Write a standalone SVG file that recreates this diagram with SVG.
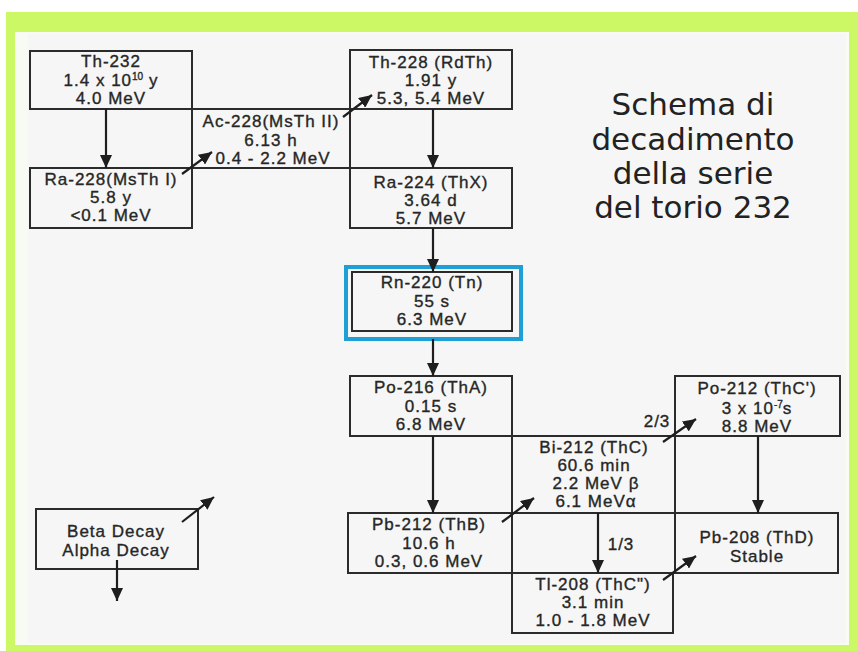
<svg xmlns="http://www.w3.org/2000/svg" width="858" height="651" viewBox="0 0 858 651">
<style>
.box{fill:none;stroke:#2b2b2b;stroke-width:2}
.t{font-family:"Liberation Sans",Arial,sans-serif;font-size:17px;letter-spacing:1px;fill:#262626;stroke:#262626;stroke-width:0.35;text-anchor:middle}
.sup{font-size:10px;letter-spacing:0}
.c{stroke:#1e1e1e;stroke-width:2.2;fill:none;marker-end:url(#ah)}
.title{font-family:"DejaVu Sans",Verdana,sans-serif;font-size:31px;fill:#222;text-anchor:middle}
</style>
<defs>
<marker id="ah" markerUnits="userSpaceOnUse" markerWidth="14" markerHeight="12" refX="13" refY="6" orient="auto">
<path d="M0,0 L13,6 L0,12 z" fill="#1e1e1e"/>
</marker>
</defs>
<rect x="0" y="0" width="858" height="651" fill="#ffffff"/>
<rect x="6" y="12" width="852" height="639" fill="#ccf866"/>
<rect x="15" y="32" width="834" height="613" fill="#f8faf4"/>
<rect x="28" y="34" width="818" height="609" fill="#f5f6f5"/>

<g id="title">
<text class="title" x="693" y="115">Schema di</text>
<text class="title" x="693" y="150">decadimento</text>
<text class="title" x="693" y="184">della serie</text>
<text class="title" x="693" y="218">del torio 232</text>
</g>

<g id="th232">
<rect class="box" x="30" y="51" width="162" height="58"/>
<text class="t" x="111" y="67">Th-232</text>
<text class="t" x="111" y="86">1.4 x 10<tspan class="sup" dy="-6">10</tspan><tspan dy="6"> y</tspan></text>
<text class="t" x="111" y="104">4.0 MeV</text>
</g>
<g id="ac228">
<rect class="box" x="192" y="109" width="158" height="59"/>
<text class="t" x="271" y="127">Ac-228(MsTh II)</text>
<text class="t" x="271" y="146">6.13 h</text>
<text class="t" x="273" y="164">0.4 - 2.2 MeV</text>
</g>
<g id="ra228">
<rect class="box" x="30" y="168" width="162" height="60"/>
<text class="t" x="111" y="185">Ra-228(MsTh I)</text>
<text class="t" x="111" y="203">5.8 y</text>
<text class="t" x="111" y="221">&lt;0.1 MeV</text>
</g>
<g id="th228">
<rect class="box" x="350" y="50" width="162" height="59"/>
<text class="t" x="431" y="68">Th-228 (RdTh)</text>
<text class="t" x="431" y="86">1.91 y</text>
<text class="t" x="431" y="104">5.3, 5.4 MeV</text>
</g>
<g id="ra224">
<rect class="box" x="350" y="168" width="162" height="60"/>
<text class="t" x="431" y="188">Ra-224 (ThX)</text>
<text class="t" x="431" y="206">3.64 d</text>
<text class="t" x="431" y="224">5.7 MeV</text>
</g>
<g id="rn220">
<rect x="346" y="267" width="175" height="72" fill="none" stroke="#1ea0d6" stroke-width="4"/>
<rect class="box" x="352" y="272" width="160" height="59"/>
<text class="t" x="432" y="288">Rn-220 (Tn)</text>
<text class="t" x="432" y="307">55 s</text>
<text class="t" x="432" y="325">6.3 MeV</text>
</g>
<g id="po216">
<rect class="box" x="350" y="376" width="162" height="60"/>
<text class="t" x="431" y="393">Po-216 (ThA)</text>
<text class="t" x="431" y="412">0.15 s</text>
<text class="t" x="431" y="430">6.8 MeV</text>
</g>
<g id="po212">
<rect class="box" x="675" y="376" width="165" height="60"/>
<text class="t" x="757" y="394">Po-212 (ThC')</text>
<text class="t" x="757" y="414">3 x 10<tspan class="sup" dy="-6">-7</tspan><tspan dy="6">s</tspan></text>
<text class="t" x="757" y="432">8.8 MeV</text>
</g>
<g id="bi212">
<rect class="box" x="512" y="436" width="163" height="77"/>
<text class="t" x="594" y="453">Bi-212 (ThC)</text>
<text class="t" x="594" y="471">60.6 min</text>
<text class="t" x="596" y="489">2.2 MeV β</text>
<text class="t" x="596" y="507">6.1 MeVα</text>
</g>
<g id="pb212">
<rect class="box" x="348" y="513" width="164" height="60"/>
<text class="t" x="429" y="530">Pb-212 (ThB)</text>
<text class="t" x="429" y="549">10.6 h</text>
<text class="t" x="429" y="567">0.3, 0.6 MeV</text>
</g>
<g id="pb208">
<rect class="box" x="675" y="513" width="163" height="60"/>
<text class="t" x="757" y="543">Pb-208 (ThD)</text>
<text class="t" x="757" y="562">Stable</text>
</g>
<g id="tl208">
<rect class="box" x="512" y="573" width="161" height="60"/>
<text class="t" x="593" y="590">Tl-208 (ThC")</text>
<text class="t" x="593" y="608">3.1 min</text>
<text class="t" x="593" y="626">1.0 - 1.8 MeV</text>
</g>
<g id="legend">
<rect class="box" x="36" y="509" width="162" height="60"/>
<text class="t" x="116" y="537">Beta Decay</text>
<text class="t" x="116" y="556">Alpha Decay</text>
</g>

<g id="connectors">
<line class="c" x1="106" y1="109" x2="106" y2="168"/>
<line class="c" x1="182" y1="174" x2="212" y2="152"/>
<line class="c" x1="343" y1="117" x2="372" y2="95"/>
<line class="c" x1="433" y1="109" x2="433" y2="168"/>
<line class="c" x1="433" y1="228" x2="433" y2="272"/>
<line class="c" x1="433" y1="339" x2="433" y2="376"/>
<line class="c" x1="433" y1="436" x2="433" y2="513"/>
<line class="c" x1="663" y1="442" x2="696" y2="419"/>
<line class="c" x1="758" y1="436" x2="758" y2="513"/>
<line class="c" x1="502" y1="522" x2="534" y2="498"/>
<line class="c" x1="598" y1="513" x2="598" y2="573"/>
<line class="c" x1="663" y1="580" x2="696" y2="556"/>
<line class="c" x1="182" y1="522" x2="214" y2="497"/>
<line class="c" x1="117" y1="560" x2="117" y2="601"/>
<text class="t" x="621" y="550">1/3</text>
<text class="t" x="657" y="427">2/3</text>
</g>
</svg>
